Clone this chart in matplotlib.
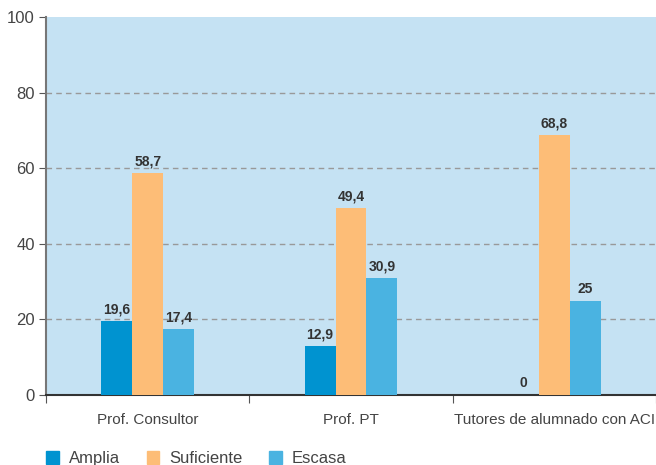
import numpy as np
import matplotlib.pyplot as plt
from matplotlib.patches import Patch

categories = ['Prof. Consultor', 'Prof. PT', 'Tutores de alumnado con ACI']
series = ['Amplia', 'Suficiente', 'Escasa']
amplia = [19.6, 12.9, 0]
suficiente = [58.7, 49.4, 68.8]
escasa = [17.4, 30.9, 25]
colors = ['#0093d0', '#fdbd77', '#4ab3e1']

plt.rcParams['font.family'] = ['Liberation Sans', 'DejaVu Sans']

fig = plt.figure(figsize=(6.56, 4.65), dpi=100)
ax = fig.add_axes([46/656, 1-395/465, 1-46/656, 378/465])
ax.set_facecolor('#c5e2f3')

x = np.arange(len(categories))
w = 0.152
for i, (vals, c) in enumerate(zip([amplia, suficiente, escasa], colors)):
    xs = x + (i-1)*w
    ax.bar(xs, vals, width=w, color=c, zorder=3)
    for xx, v in zip(xs, vals):
        lab = '{:.1f}'.format(v).replace('.', ',') if v != int(v) else str(int(v))
        ax.text(xx, v+1.2, lab, ha='center', va='bottom', fontsize=10,
                fontweight='bold', color='#333333', zorder=4)

ax.set_xlim(-0.5, 2.5)
ax.set_ylim(0, 100)
ax.set_yticks(range(0, 101, 20))
for gy in range(20, 100, 20):
    ax.axhline(gy, linestyle=(0, (4, 3)), color='#999999', linewidth=1, zorder=1)
ax.set_xticks([-0.5, 0.5, 1.5, 2.5])
ax.set_xticklabels([])
ax.set_xticks(x, minor=True)
ax.set_xticklabels(categories, minor=True, fontsize=11, color='#444444')
ax.tick_params(axis='x', which='minor', length=0, pad=13)
ax.tick_params(axis='x', which='major', length=6, color='#555555')
ax.tick_params(axis='y', length=5, color='#555555', labelsize=12, labelcolor='#444444', pad=3)
for s in ['top', 'right']:
    ax.spines[s].set_visible(False)
ax.spines['left'].set_color('#777777')
ax.spines['left'].set_linewidth(1.5)
ax.spines['bottom'].set_color('#333333')
ax.spines['bottom'].set_linewidth(1.5)

handles = [Patch(color=c, label=s) for s, c in zip(series, colors)]
fig.legend(handles=handles, loc='lower left', bbox_to_anchor=(0.048, -0.035), ncol=3,
           frameon=False, fontsize=12, handlelength=0.75, handleheight=0.75,
           columnspacing=1.6, handletextpad=0.6, labelcolor='#444444')

fig.savefig('out.png', dpi=100)
